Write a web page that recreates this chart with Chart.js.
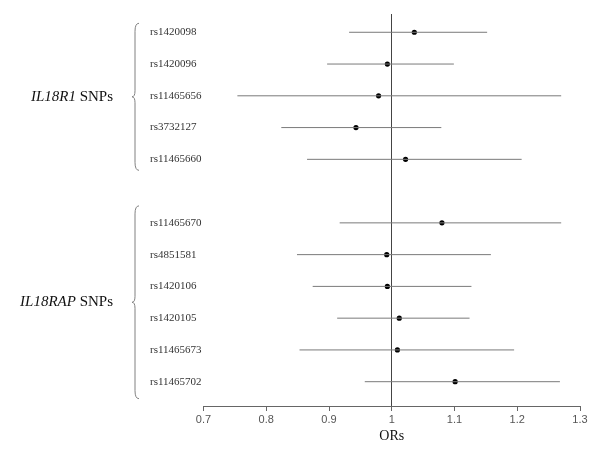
<!DOCTYPE html>
<html>
<head>
<meta charset="utf-8">
<script src="https://cdn.jsdelivr.net/npm/chart.js@4"></script>
<style>
  html, body { margin: 0; padding: 0; background: #fff; }
  #wrap { width: 600px; height: 451px; }
</style>
</head>
<body>
<div id="wrap"><canvas id="forest"></canvas></div>
<script>
const snpLabels = ['rs1420098', 'rs1420096', 'rs11465656', 'rs3732127', 'rs11465660',
                   'rs11465670', 'rs4851581', 'rs1420106', 'rs1420105', 'rs11465673', 'rs11465702'];
const rowPos = [0, 1, 2, 3, 4, 6, 7, 8, 9, 10, 11]; // row slots, gap between the two genes
const orValues = [1.036, 0.993, 0.979, 0.943, 1.022, 1.080, 0.992, 0.993, 1.012, 1.009, 1.101];
const ciLower  = [0.932, 0.897, 0.754, 0.824, 0.865, 0.917, 0.849, 0.874, 0.913, 0.853, 0.957];
const ciUpper  = [1.152, 1.099, 1.270, 1.079, 1.207, 1.270, 1.158, 1.127, 1.124, 1.195, 1.268];
const xTicks = [0.7, 0.8, 0.9, 1.0, 1.1, 1.2, 1.3];
const groupNames = ['IL18R1', 'IL18RAP'];
const groupRows = [[0, 4], [6, 11]];

const ciData = [];
rowPos.forEach((p, i) => {
    ciData.push({ x: ciLower[i], y: p }, { x: ciUpper[i], y: p }, { x: null, y: null });
});

// braces + gene labels on the left
const groupPlugin = {
    id: 'groups',
    afterDraw(chart) {
        const ctx = chart.ctx;
        const y = chart.scales.y;
        const pads = [[9, 11], [17, 17]];
        groupRows.forEach((g, i) => {
            const top = y.getPixelForValue(g[0]) - pads[i][0];
            const bot = y.getPixelForValue(g[1]) + pads[i][1];
            const mid = (top + bot) / 2;
            const x = 135, w = 4;
            ctx.save();
            ctx.strokeStyle = '#808080';
            ctx.lineWidth = 1;
            ctx.beginPath();
            ctx.moveTo(x + w, top);
            ctx.quadraticCurveTo(x, top, x, top + 8);
            ctx.lineTo(x, mid - 6);
            ctx.quadraticCurveTo(x, mid, x - 3, mid);
            ctx.quadraticCurveTo(x, mid, x, mid + 6);
            ctx.lineTo(x, bot - 8);
            ctx.quadraticCurveTo(x, bot, x + w, bot);
            ctx.stroke();

            ctx.fillStyle = '#111';
            ctx.textBaseline = 'middle';
            ctx.textAlign = 'left';
            ctx.font = '15px "Liberation Serif"';
            const rest = ' SNPs';
            const restW = ctx.measureText(rest).width;
            ctx.font = 'italic 15px "Liberation Serif"';
            const geneW = ctx.measureText(groupNames[i]).width;
            const right = 113;
            ctx.fillText(groupNames[i], right - restW - geneW, mid);
            ctx.font = '15px "Liberation Serif"';
            ctx.fillText(rest, right - restW, mid);
            ctx.restore();
        });
    }
};

new Chart(document.getElementById('forest'), {
    type: 'scatter',
    data: {
        datasets: [{
            label: '95% CI',
            data: ciData,
            showLine: true,
            spanGaps: false,
            borderColor: '#7a7a7a',
            borderWidth: 1,
            pointRadius: 0,
            pointHoverRadius: 0
        }, {
            label: 'OR',
            data: rowPos.map((p, i) => ({ x: orValues[i], y: p })),
            pointRadius: 2.6,
            pointBackgroundColor: '#000',
            pointBorderColor: '#000',
            pointBorderWidth: 0
        }]
    },
    options: {
        responsive: true,
        maintainAspectRatio: false,
        animation: false,
        layout: { padding: { left: 150, right: 20, top: 14, bottom: 0 } },
        plugins: {
            legend: { display: false },
            tooltip: { enabled: false }
        },
        scales: {
            x: {
                type: 'linear',
                min: 0.7,
                max: 1.3,
                afterBuildTicks: axis => { axis.ticks = xTicks.map(v => ({ value: v })); },
                ticks: {
                    callback: v => String(Math.round(v * 10) / 10),
                    color: '#555',
                    font: { family: '"Liberation Sans"', size: 11 },
                    padding: 2
                },
                grid: {
                    drawOnChartArea: true,
                    color: c => (c.tick && Math.abs(c.tick.value - 1) < 1e-6) ? '#444' : 'rgba(0,0,0,0)',
                    lineWidth: 1,
                    tickColor: '#666',
                    tickLength: 5
                },
                border: { display: true, color: '#666', width: 1 },
                title: {
                    display: true,
                    text: 'ORs',
                    color: '#111',
                    font: { family: '"Liberation Serif"', size: 14 },
                    padding: { top: 0, bottom: 6 }
                }
            },
            y: {
                type: 'linear',
                reverse: true,
                min: -0.575,
                max: 11.765,
                afterBuildTicks: axis => { axis.ticks = rowPos.map(v => ({ value: v })); },
                afterFit: axis => { axis.width = 53.5; },
                ticks: {
                    crossAlign: 'far',
                    padding: 0,
                    color: '#333',
                    font: { family: '"Liberation Serif"', size: 11 },
                    callback: v => snpLabels[rowPos.indexOf(v)]
                },
                grid: { display: false },
                border: { display: false }
            }
        }
    },
    plugins: [groupPlugin]
});
</script>
</body>
</html>
